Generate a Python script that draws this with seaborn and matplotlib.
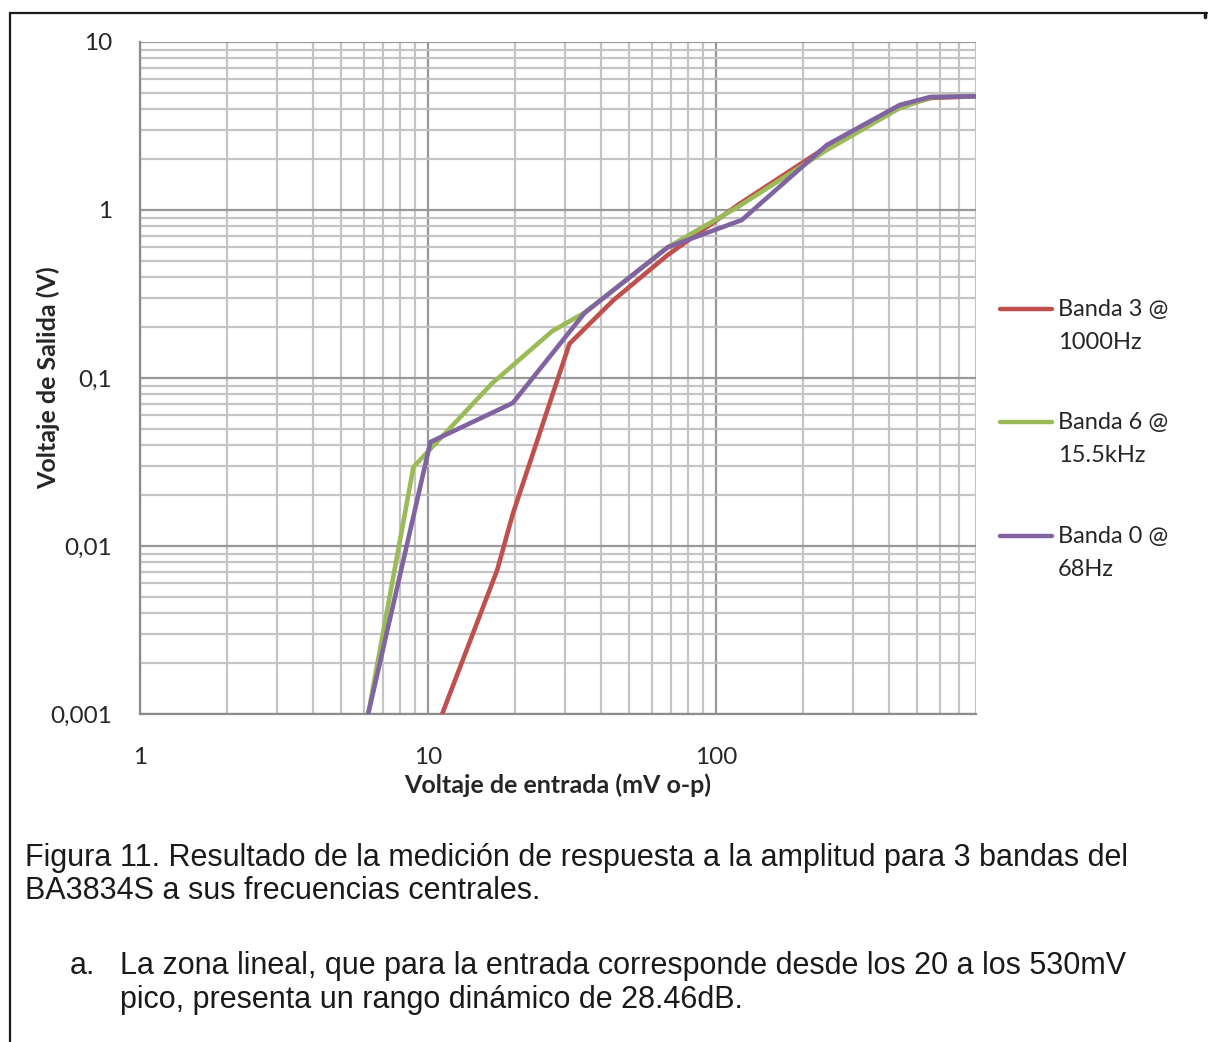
import matplotlib
matplotlib.use("Agg")
import matplotlib.pyplot as plt
import matplotlib.ticker as mticker
from matplotlib.lines import Line2D
import numpy as np
import pandas as pd
import seaborn as sns

# Measured amplitude response, input in mV peak, output in V
banda3_x = [11.2, 17.4, 19.7, 31.0, 44.0, 68.0, 120.0, 240.0, 430.0, 560.0, 800.0]
banda3_y = [0.001, 0.0072, 0.0155, 0.16, 0.29, 0.54, 1.08, 2.35, 4.1, 4.65, 4.75]

banda6_x = [6.2, 8.9, 16.7, 27.0, 35.0, 68.0, 120.0, 240.0, 430.0, 560.0, 800.0]
banda6_y = [0.001, 0.0295, 0.093, 0.19, 0.245, 0.60, 1.05, 2.25, 4.0, 4.7, 4.75]

banda0_x = [6.2, 10.2, 19.7, 35.0, 68.0, 123.0, 243.0, 435.0, 553.0, 800.0]
banda0_y = [0.001, 0.0416, 0.071, 0.244, 0.60, 0.872, 2.44, 4.22, 4.7, 4.75]

series_names = ["Banda 3 @\n1000Hz", "Banda 6 @\n15.5kHz", "Banda 0 @\n68Hz"]
series_colors = ["#C0504D", "#9BBB59", "#8064A2"]

y_ticks = [0.001, 0.01, 0.1, 1, 10]
y_tick_labels = ["0,001", "0,01", "0,1", "1", "10"]
x_ticks = [1, 10, 100]
x_tick_labels = ["1", "10", "100"]

frames = []
for name, xs, ys in zip(series_names,
                        [banda3_x, banda6_x, banda0_x],
                        [banda3_y, banda6_y, banda0_y]):
    frames.append(pd.DataFrame({"entrada": xs, "salida": ys, "serie": name}))
df = pd.concat(frames, ignore_index=True)

sns.set_style("white")
plt.rcParams["font.family"] = ["Lato", "DejaVu Sans"]

W, H = 1208, 1042
fig = plt.figure(figsize=(W / 100, H / 100), dpi=100)
ax = fig.add_axes([140 / W, 1 - 714 / H, (976 - 140) / W, (714 - 42) / H])

ax.set_xscale("log")
ax.set_yscale("log")
ax.set_xlim(1, 800)
ax.set_ylim(0.001, 10)

sns.lineplot(data=df, x="entrada", y="salida", hue="serie", sort=False,
             palette=dict(zip(series_names, series_colors)),
             linewidth=3.3, legend=False, ax=ax, zorder=3)

# grid: light minor lines, darker decade lines
ax.xaxis.set_major_locator(mticker.FixedLocator(x_ticks))
ax.yaxis.set_major_locator(mticker.FixedLocator(y_ticks))
ax.xaxis.set_minor_locator(mticker.LogLocator(base=10, subs=np.arange(2, 10), numticks=20))
ax.yaxis.set_minor_locator(mticker.LogLocator(base=10, subs=np.arange(2, 10), numticks=20))
ax.xaxis.set_minor_formatter(mticker.NullFormatter())
ax.yaxis.set_minor_formatter(mticker.NullFormatter())
ax.set_xticklabels(x_tick_labels)
ax.set_yticklabels(y_tick_labels)
ax.grid(which="minor", color="#c4c4c4", linewidth=1.6, zorder=0)
ax.grid(which="major", color="#989898", linewidth=1.6, zorder=1)
ax.set_axisbelow(True)

for side in ["top", "right"]:
    ax.spines[side].set_visible(False)
for side in ["left", "bottom"]:
    ax.spines[side].set_color("#8c8c8c")
    ax.spines[side].set_linewidth(1.6)

ax.tick_params(which="major", axis="both", direction="out", length=6,
               width=1.4, color="#8c8c8c", labelsize=17.5, labelcolor="#262626")
ax.tick_params(which="minor", length=0)
ax.tick_params(axis="x", pad=18)
ax.tick_params(axis="y", pad=14)

ax.set_xlabel("Voltaje de entrada (mV o-p)", fontsize=18, fontweight="bold",
              color="#262626", labelpad=4)
ax.set_ylabel("Voltaje de Salida (V)", fontsize=18, fontweight="bold",
              color="#262626", labelpad=-7)

# legend on the right, handle aligned with the first text line
legend_rows = [309, 422, 536]
for name, color, yrow in zip(series_names, series_colors, legend_rows):
    fy = 1 - yrow / H
    fig.add_artist(Line2D([1000 / W, 1052 / W], [fy, fy], color=color,
                          linewidth=3.2, solid_capstyle="round"))
    fig.text(1058 / W, fy + 10 / H, name, fontsize=17, color="#262626",
             va="top", ha="left", linespacing=1.72)

# caption
cap_font = ["Liberation Sans", "DejaVu Sans"]
cap_size = 22.0
fig.text(25 / W, 1 - 858 / H,
         "Figura 11. Resultado de la medición de respuesta a la amplitud para 3 bandas del",
         fontsize=cap_size, family=cap_font, va="center", ha="left", color="#1a1a1a")
fig.text(25 / W, 1 - 891 / H, "BA3834S a sus frecuencias centrales.",
         fontsize=cap_size, family=cap_font, va="center", ha="left", color="#1a1a1a")
fig.text(70 / W, 1 - 966 / H, "a.", fontsize=cap_size, family=cap_font,
         va="center", ha="left", color="#1a1a1a")
fig.text(120 / W, 1 - 966 / H,
         "La zona lineal, que para la entrada corresponde desde los 20 a los 530mV",
         fontsize=cap_size, family=cap_font, va="center", ha="left", color="#1a1a1a")
fig.text(120 / W, 1 - 1000 / H, "pico, presenta un rango dinámico de 28.46dB.",
         fontsize=cap_size, family=cap_font, va="center", ha="left", color="#1a1a1a")

# page border lines
fig.add_artist(Line2D([10 / W, 1207 / W], [1 - 13 / H, 1 - 13 / H], color="#1a1a1a", linewidth=1.6))
fig.add_artist(Line2D([10 / W, 10 / W], [0, 1 - 13 / H], color="#1a1a1a", linewidth=1.6))
fig.add_artist(Line2D([1205 / W, 1205 / W], [1 - 13 / H, 1 - 17 / H], color="#1a1a1a", linewidth=2.5))

fig.savefig("out.png", dpi=100)
